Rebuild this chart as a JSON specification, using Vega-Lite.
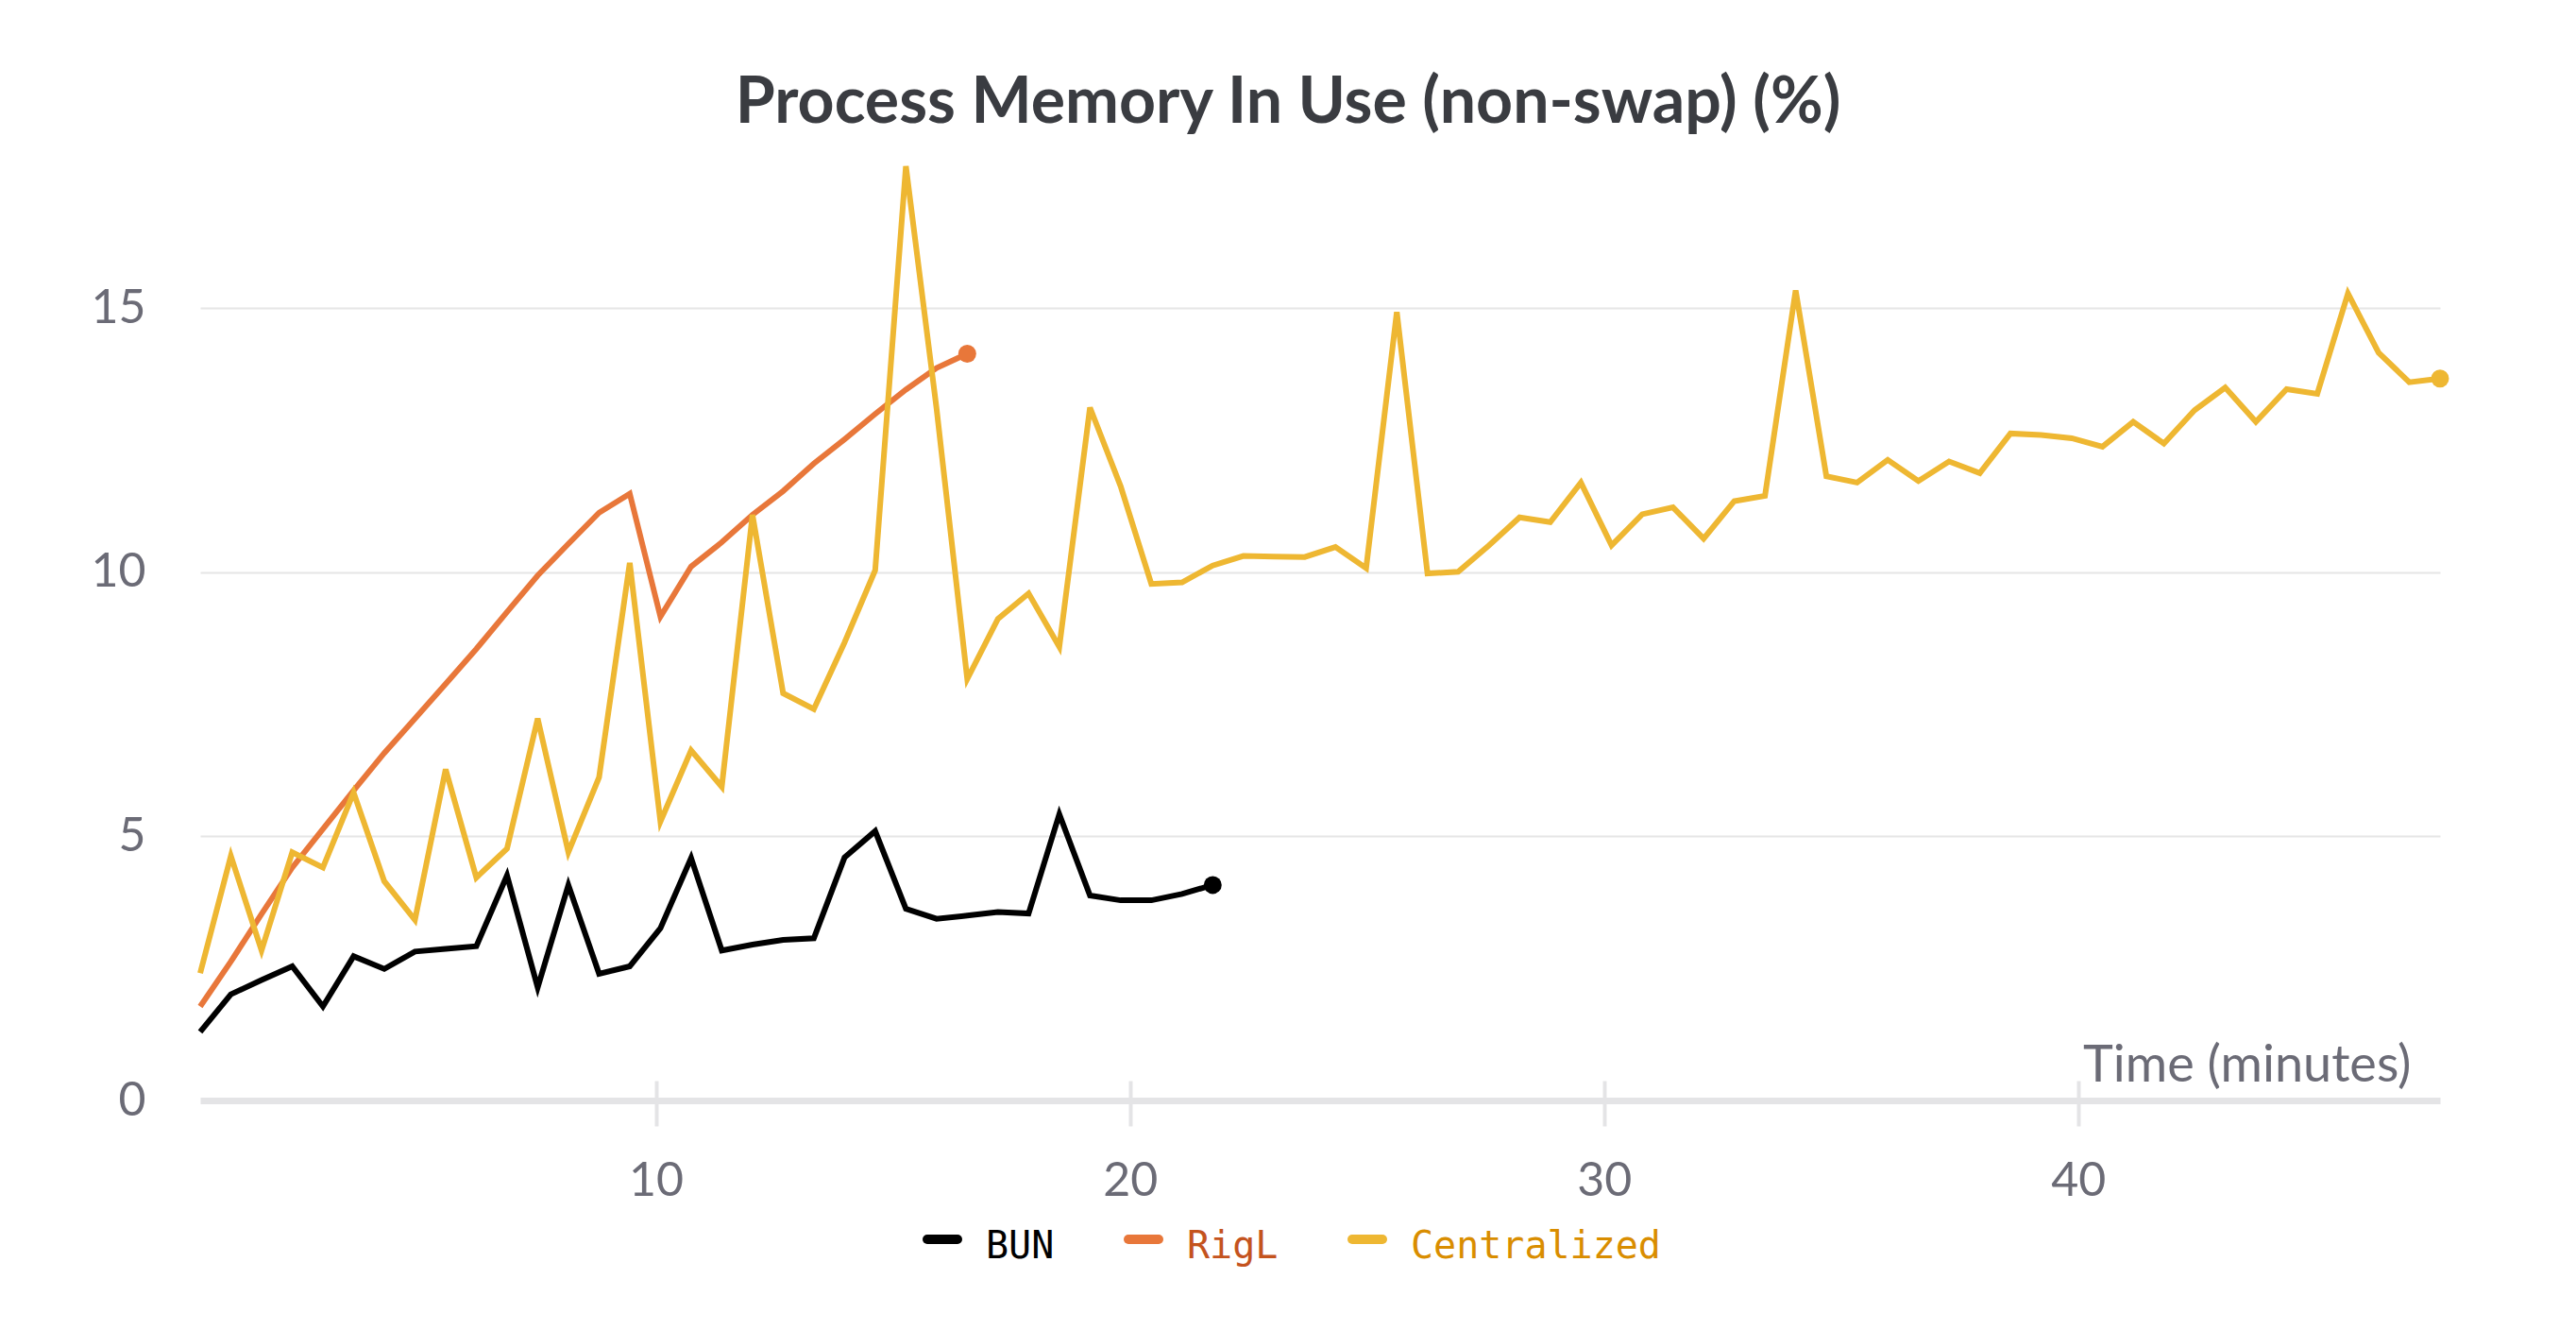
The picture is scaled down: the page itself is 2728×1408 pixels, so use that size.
{
  "$schema": "https://vega.github.io/schema/vega-lite/v6.json",
  "width": 2372,
  "height": 989,
  "autosize": {"type": "none"},
  "padding": {"left": 212, "top": 176, "right": 144, "bottom": 243},
  "background": "white",
  "title": {
    "text": "Process Memory In Use (non-swap) (%)",
    "font": "Lato",
    "fontSize": 68,
    "fontWeight": "bold",
    "color": "#3a3c41",
    "anchor": "middle",
    "frame": "group",
    "baseline": "alphabetic",
    "dx": -34,
    "offset": -34
  },
  "config": {
    "view": {"stroke": null},
    "axis": {"labelFont": "Lato", "labelColor": "#6b6b76", "titleFont": "Lato", "titleColor": "#6b6b76", "titleFontWeight": "normal"}
  },
  "datasets": {
    "mem": [
      {"series": "BUN", "t": 0.387, "v": 1.30},
      {"series": "BUN", "t": 1.034, "v": 2.01},
      {"series": "BUN", "t": 1.681, "v": 2.28},
      {"series": "BUN", "t": 2.329, "v": 2.54},
      {"series": "BUN", "t": 2.976, "v": 1.78},
      {"series": "BUN", "t": 3.623, "v": 2.73},
      {"series": "BUN", "t": 4.270, "v": 2.49},
      {"series": "BUN", "t": 4.917, "v": 2.82},
      {"series": "BUN", "t": 5.565, "v": 2.87},
      {"series": "BUN", "t": 6.212, "v": 2.92},
      {"series": "BUN", "t": 6.859, "v": 4.26},
      {"series": "BUN", "t": 7.506, "v": 2.14},
      {"series": "BUN", "t": 8.153, "v": 4.08},
      {"series": "BUN", "t": 8.801, "v": 2.40},
      {"series": "BUN", "t": 9.448, "v": 2.54},
      {"series": "BUN", "t": 10.095, "v": 3.26},
      {"series": "BUN", "t": 10.742, "v": 4.59},
      {"series": "BUN", "t": 11.389, "v": 2.84},
      {"series": "BUN", "t": 12.037, "v": 2.95},
      {"series": "BUN", "t": 12.684, "v": 3.04},
      {"series": "BUN", "t": 13.331, "v": 3.07},
      {"series": "BUN", "t": 13.978, "v": 4.60},
      {"series": "BUN", "t": 14.625, "v": 5.10},
      {"series": "BUN", "t": 15.273, "v": 3.63},
      {"series": "BUN", "t": 15.920, "v": 3.44},
      {"series": "BUN", "t": 16.567, "v": 3.50},
      {"series": "BUN", "t": 17.214, "v": 3.57},
      {"series": "BUN", "t": 17.861, "v": 3.54},
      {"series": "BUN", "t": 18.509, "v": 5.42},
      {"series": "BUN", "t": 19.156, "v": 3.88},
      {"series": "BUN", "t": 19.803, "v": 3.79},
      {"series": "BUN", "t": 20.450, "v": 3.79},
      {"series": "BUN", "t": 21.097, "v": 3.91},
      {"series": "BUN", "t": 21.745, "v": 4.08},
      {"series": "RigL", "t": 0.387, "v": 1.78},
      {"series": "RigL", "t": 1.034, "v": 2.63},
      {"series": "RigL", "t": 1.681, "v": 3.53},
      {"series": "RigL", "t": 2.329, "v": 4.41},
      {"series": "RigL", "t": 2.976, "v": 5.14},
      {"series": "RigL", "t": 3.623, "v": 5.87},
      {"series": "RigL", "t": 4.270, "v": 6.58},
      {"series": "RigL", "t": 4.917, "v": 7.23},
      {"series": "RigL", "t": 5.565, "v": 7.89},
      {"series": "RigL", "t": 6.212, "v": 8.55},
      {"series": "RigL", "t": 6.859, "v": 9.25},
      {"series": "RigL", "t": 7.506, "v": 9.94},
      {"series": "RigL", "t": 8.153, "v": 10.54},
      {"series": "RigL", "t": 8.801, "v": 11.13},
      {"series": "RigL", "t": 9.448, "v": 11.49},
      {"series": "RigL", "t": 10.095, "v": 9.16},
      {"series": "RigL", "t": 10.742, "v": 10.11},
      {"series": "RigL", "t": 11.389, "v": 10.57},
      {"series": "RigL", "t": 12.037, "v": 11.09},
      {"series": "RigL", "t": 12.684, "v": 11.54},
      {"series": "RigL", "t": 13.331, "v": 12.06},
      {"series": "RigL", "t": 13.978, "v": 12.52},
      {"series": "RigL", "t": 14.625, "v": 13.00},
      {"series": "RigL", "t": 15.273, "v": 13.46},
      {"series": "RigL", "t": 15.920, "v": 13.87},
      {"series": "RigL", "t": 16.567, "v": 14.14},
      {"series": "Centralized", "t": 0.387, "v": 2.41},
      {"series": "Centralized", "t": 1.034, "v": 4.63},
      {"series": "Centralized", "t": 1.681, "v": 2.84},
      {"series": "Centralized", "t": 2.329, "v": 4.70},
      {"series": "Centralized", "t": 2.976, "v": 4.41},
      {"series": "Centralized", "t": 3.623, "v": 5.83},
      {"series": "Centralized", "t": 4.270, "v": 4.15},
      {"series": "Centralized", "t": 4.917, "v": 3.42},
      {"series": "Centralized", "t": 5.565, "v": 6.27},
      {"series": "Centralized", "t": 6.212, "v": 4.22},
      {"series": "Centralized", "t": 6.859, "v": 4.77},
      {"series": "Centralized", "t": 7.506, "v": 7.23},
      {"series": "Centralized", "t": 8.153, "v": 4.70},
      {"series": "Centralized", "t": 8.801, "v": 6.12},
      {"series": "Centralized", "t": 9.448, "v": 10.18},
      {"series": "Centralized", "t": 10.095, "v": 5.28},
      {"series": "Centralized", "t": 10.742, "v": 6.63},
      {"series": "Centralized", "t": 11.389, "v": 5.94},
      {"series": "Centralized", "t": 12.037, "v": 11.09},
      {"series": "Centralized", "t": 12.684, "v": 7.71},
      {"series": "Centralized", "t": 13.331, "v": 7.41},
      {"series": "Centralized", "t": 13.978, "v": 8.67},
      {"series": "Centralized", "t": 14.625, "v": 10.04},
      {"series": "Centralized", "t": 15.273, "v": 17.69},
      {"series": "Centralized", "t": 15.920, "v": 13.10},
      {"series": "Centralized", "t": 16.567, "v": 7.98},
      {"series": "Centralized", "t": 17.214, "v": 9.12},
      {"series": "Centralized", "t": 17.861, "v": 9.60},
      {"series": "Centralized", "t": 18.509, "v": 8.59},
      {"series": "Centralized", "t": 19.156, "v": 13.12},
      {"series": "Centralized", "t": 19.803, "v": 11.63},
      {"series": "Centralized", "t": 20.450, "v": 9.78},
      {"series": "Centralized", "t": 21.097, "v": 9.81},
      {"series": "Centralized", "t": 21.745, "v": 10.13},
      {"series": "Centralized", "t": 22.392, "v": 10.31},
      {"series": "Centralized", "t": 23.039, "v": 10.30},
      {"series": "Centralized", "t": 23.686, "v": 10.29},
      {"series": "Centralized", "t": 24.333, "v": 10.48},
      {"series": "Centralized", "t": 24.981, "v": 10.08},
      {"series": "Centralized", "t": 25.628, "v": 14.93},
      {"series": "Centralized", "t": 26.275, "v": 9.98},
      {"series": "Centralized", "t": 26.922, "v": 10.01},
      {"series": "Centralized", "t": 27.569, "v": 10.51},
      {"series": "Centralized", "t": 28.217, "v": 11.04},
      {"series": "Centralized", "t": 28.864, "v": 10.95},
      {"series": "Centralized", "t": 29.511, "v": 11.70},
      {"series": "Centralized", "t": 30.158, "v": 10.51},
      {"series": "Centralized", "t": 30.805, "v": 11.10},
      {"series": "Centralized", "t": 31.453, "v": 11.23},
      {"series": "Centralized", "t": 32.100, "v": 10.64},
      {"series": "Centralized", "t": 32.747, "v": 11.35},
      {"series": "Centralized", "t": 33.394, "v": 11.45},
      {"series": "Centralized", "t": 34.041, "v": 15.34},
      {"series": "Centralized", "t": 34.689, "v": 11.82},
      {"series": "Centralized", "t": 35.336, "v": 11.70},
      {"series": "Centralized", "t": 35.983, "v": 12.13},
      {"series": "Centralized", "t": 36.630, "v": 11.73},
      {"series": "Centralized", "t": 37.277, "v": 12.10},
      {"series": "Centralized", "t": 37.925, "v": 11.88},
      {"series": "Centralized", "t": 38.572, "v": 12.63},
      {"series": "Centralized", "t": 39.219, "v": 12.60},
      {"series": "Centralized", "t": 39.866, "v": 12.54},
      {"series": "Centralized", "t": 40.513, "v": 12.38},
      {"series": "Centralized", "t": 41.161, "v": 12.85},
      {"series": "Centralized", "t": 41.808, "v": 12.44},
      {"series": "Centralized", "t": 42.455, "v": 13.07},
      {"series": "Centralized", "t": 43.102, "v": 13.50},
      {"series": "Centralized", "t": 43.749, "v": 12.85},
      {"series": "Centralized", "t": 44.397, "v": 13.47},
      {"series": "Centralized", "t": 45.044, "v": 13.38},
      {"series": "Centralized", "t": 45.691, "v": 15.28},
      {"series": "Centralized", "t": 46.338, "v": 14.16},
      {"series": "Centralized", "t": 46.985, "v": 13.60},
      {"series": "Centralized", "t": 47.633, "v": 13.67}
    ]
  },
  "data": {"name": "mem"},
  "encoding": {
    "x": {
      "field": "t",
      "type": "quantitative",
      "scale": {"domain": [0.387, 47.633], "nice": false, "zero": false},
      "axis": {
        "title": "Time (minutes)",
        "values": [10, 20, 30, 40],
        "offset": -21,
        "domain": false,
        "grid": false,
        "ticks": true,
        "tickSize": 48,
        "tickWidth": 4,
        "tickColor": "#e4e4e6",
        "labelFontSize": 50,
        "labelPadding": 33,
        "titleFontSize": 54,
        "titleAlign": "right",
        "titleBaseline": "alphabetic",
        "titleAnchor": null,
        "titleX": 2341,
        "titleY": 0
      }
    },
    "y": {
      "field": "v",
      "type": "quantitative",
      "scale": {"domain": [0, 17.69], "nice": false},
      "axis": {
        "title": null,
        "values": [0, 5, 10, 15],
        "domain": false,
        "ticks": false,
        "grid": true,
        "gridColor": {"condition": {"test": "datum.value === 0", "value": "#e4e4e6"}, "value": "#e6e6e6"},
        "gridWidth": {"condition": {"test": "datum.value === 0", "value": 7}, "value": 2},
        "labelFontSize": 50,
        "labelPadding": 58
      }
    },
    "color": {
      "field": "series",
      "type": "nominal",
      "scale": {"domain": ["BUN", "RigL", "Centralized"], "range": ["#000000", "#E8773A", "#EEB732"]},
      "legend": {
        "orient": "none",
        "direction": "horizontal",
        "legendX": 765,
        "legendY": 1115,
        "title": null,
        "padding": 0,
        "labelFont": "DejaVu Sans Mono",
        "labelFontSize": 40,
        "labelLimit": 0,
        "labelOffset": 25,
        "columnPadding": 58,
        "symbolType": "stroke",
        "symbolSize": 1024,
        "symbolStrokeWidth": 10,
        "symbolOpacity": 1,
        "encode": {
          "labels": {"update": {"fill": {"signal": "datum.value === 'BUN' ? '#000000' : datum.value === 'RigL' ? '#C4531E' : '#D98D00'"}, "dy": {"value": 8}}},
          "symbols": {"update": {"strokeCap": {"value": "round"}}}
        }
      }
    }
  },
  "layer": [
    {"mark": {"type": "line", "strokeWidth": 6}},
    {
      "transform": [
        {"joinaggregate": [{"op": "max", "field": "t", "as": "tmax"}], "groupby": ["series"]},
        {"filter": "datum.t === datum.tmax"}
      ],
      "mark": {"type": "point", "filled": true, "opacity": 1, "size": 360}
    }
  ]
}
